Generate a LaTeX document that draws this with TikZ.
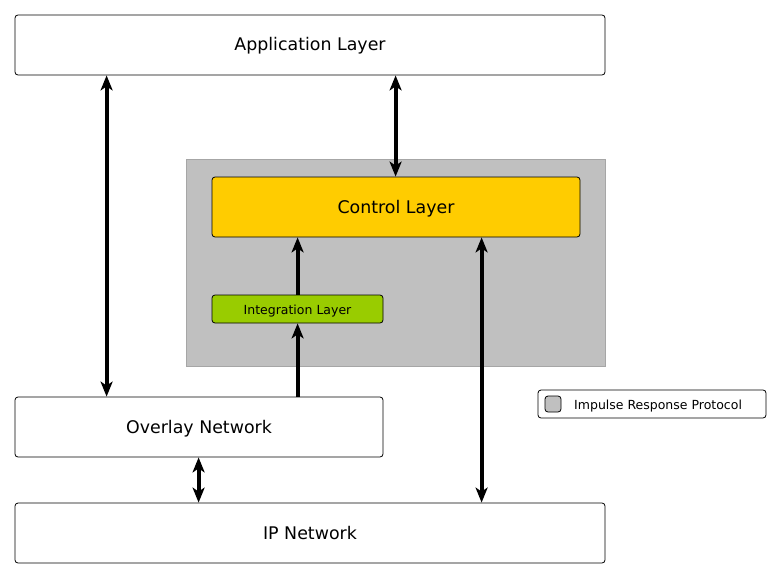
\documentclass[tikz,border=0pt]{standalone}
\usepackage{fontspec}
\setmainfont{DejaVu Sans}
\usetikzlibrary{arrows.meta, positioning}

\definecolor{ctrlyellow}{HTML}{FFCC00}
\definecolor{intgreen}{HTML}{99CC00}
\definecolor{irpgray}{HTML}{C0C0C0}

\begin{document}
\begin{tikzpicture}[x=1pt, y=-1pt,
    layer/.style={draw, rounded corners=3pt, line width=0.8pt, fill=white, inner sep=0pt, text height=16pt, text depth=4pt, font=\fontsize{17.4}{20}\selectfont},
    small/.style={draw, rounded corners=3pt, line width=0.8pt, inner sep=0pt, font=\fontsize{12.5}{15}\selectfont},
    arr/.style={line width=4pt, {Stealth[length=15pt,width=12pt,inset=4pt]}-{Stealth[length=15pt,width=12pt,inset=4pt]}},
    uparr/.style={line width=4pt, -{Stealth[length=15pt,width=12pt,inset=4pt]}}
]
\useasboundingbox (0,0) rectangle (781,578);

% Impulse Response Protocol area
\node[draw=gray!70, line width=0.6pt, fill=irpgray, minimum width=419pt, minimum height=207pt, inner sep=0pt] (irp) at (395.5,262.5) {};

% Layers
\node[layer, minimum width=590pt, minimum height=60pt] (app) at (310,45) {Application Layer};
\node[layer, fill=ctrlyellow, minimum width=368pt, minimum height=60pt] (ctrl) at (396,207) {Control Layer};
\node[small, fill=intgreen, minimum width=171pt, minimum height=28pt, text height=12pt, text depth=2pt] (integ) at (297.5,309) {Integration Layer};
\node[layer, minimum width=368pt, minimum height=60pt] (overlay) at (199,427) {Overlay Network};
\node[layer, minimum width=590pt, minimum height=60pt] (ip) at (310,533) {IP Network};

% Legend
\node[small, fill=white, minimum width=228pt, minimum height=28pt] (legend) at (652,404) {};
\node[small, fill=irpgray, minimum size=16pt, rounded corners=3pt] (legbox) at (553,404) {};
\node[anchor=west, inner sep=0pt, text height=12pt, text depth=2pt, font=\fontsize{12.5}{15}\selectfont] (legtext) at (574,404) {Impulse Response Protocol};

% Connectors
\draw[arr] ([xshift=92pt]app.south west) -- ([xshift=92pt]overlay.north west);
\draw[arr] ([xshift=381pt]app.south west) -- ([xshift=184pt]ctrl.north west);
\draw[uparr] ([xshift=86pt]integ.north west) -- ([xshift=86pt]ctrl.south west);
\draw[uparr] ([xshift=283pt]overlay.north west) -- ([xshift=86pt]integ.south west);
\draw[arr] ([xshift=270pt]ctrl.south west) -- ([xshift=467pt]ip.north west);
\draw[arr] ([xshift=184pt]overlay.south west) -- ([xshift=184pt]ip.north west);

\end{tikzpicture}
\end{document}
